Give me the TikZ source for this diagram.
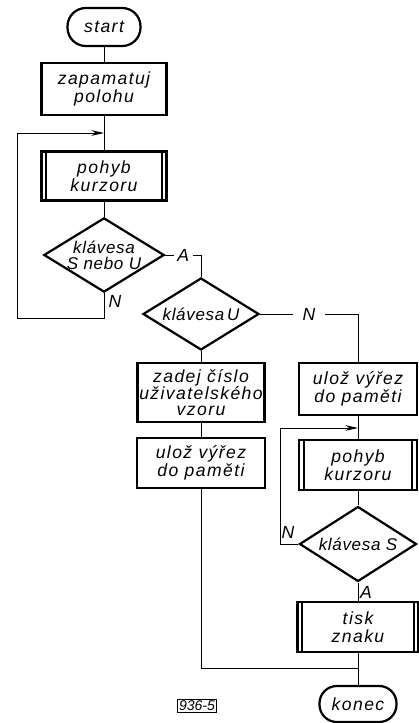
\documentclass[tikz,border=0pt]{standalone}
\usepackage{fontspec}
\setmainfont{Liberation Sans}[LetterSpace=8]
\usetikzlibrary{shapes.geometric,arrows.meta}
\begin{document}
\begin{tikzpicture}[x=0.03cm,y=-0.03cm,
  every node/.style={font=\itshape\fontsize{15}{15.5}\selectfont},
  shp/.style={draw, line width=1.9pt, align=center, inner sep=1pt},
  proc/.style={shp, rectangle},
  term/.style={shp, rectangle, rounded corners=0.55cm},
  dia/.style={shp, diamond, inner sep=0pt, font=\itshape\fontsize{14.5}{13.5}\selectfont\addfontfeature{LetterSpace=4}},
  pp/.style={proc, path picture={
      \draw[line width=1.5pt] ([xshift=0.14cm]path picture bounding box.north west) -- ([xshift=0.14cm]path picture bounding box.south west);
      \draw[line width=1.5pt] ([xshift=-0.14cm]path picture bounding box.north east) -- ([xshift=-0.14cm]path picture bounding box.south east);}},
  conn/.style={line width=0.8pt},
  arr/.style={conn, -{Stealth[length=3.8mm,width=1.7mm]}},
  lbl/.style={fill=white, inner sep=3pt},
]
\useasboundingbox (0,0) rectangle (419,723);

% left main column
\node[term, minimum width=2.19cm, minimum height=1.14cm] (start) at (104,27) {start};
\node[proc, minimum width=3.75cm, minimum height=1.56cm] (zap) at (104,89) {zapamatuj\\polohu};
\node[pp, minimum width=3.75cm, minimum height=1.47cm] (poh1) at (104,176) {pohyb\\kurzoru};
\node[dia, minimum width=3.6cm, minimum height=2.22cm, aspect=1.62] (d1) at (104,255) {klávesa\\S nebo U};

% middle column
\node[dia, minimum width=3.48cm, minimum height=2.16cm, aspect=1.61] (d2) at (201,314) {klávesa\,U};
\node[proc, minimum width=3.81cm, minimum height=1.77cm, font=\itshape\fontsize{15}{13.5}\selectfont] (zad) at (201,392.5) {zadej číslo\\uživatelského\\vzoru};
\node[proc, minimum width=3.84cm, minimum height=1.5cm] (ul1) at (201,463) {ulož výřez\\do paměti};

% right column
\node[proc, minimum width=3.54cm, minimum height=1.56cm] (ul2) at (358,389) {ulož výřez\\do paměti};
\node[pp, minimum width=3.54cm, minimum height=1.5cm] (poh2) at (358,465) {pohyb\\kurzoru};
\node[dia, minimum width=3.51cm, minimum height=2.25cm, aspect=1.56] (d3) at (358,544) {klávesa S};
\node[pp, minimum width=3.63cm, minimum height=1.5cm] (tisk) at (358,627) {tisk\\znaku};
\node[term, minimum width=2.31cm, minimum height=1.08cm, rounded corners=0.52cm] (konec) at (358,704) {konec};

\node[draw, line width=0.8pt, inner sep=1pt, font=\itshape\fontsize{12}{12}\selectfont\addfontfeature{LetterSpace=0}] (fig) at (197,706) {936-5};

% connectors left
\draw[conn] (start) -- (zap);
\draw[conn] (zap) -- (poh1);
\draw[conn] (poh1) -- (d1);
\coordinate (j1) at (104,133);
\coordinate (n1) at (104,318);
\coordinate (l1a) at (17,318);
\coordinate (l1b) at (17,133);
\draw[conn] (d1.south) -- (n1) -- (l1a) -- (l1b);
\draw[arr] (l1b) -- (j1);
\node (nlab1) at (115,301) {N};

% A branch to d2
\coordinate (c1) at (d1.east -| d2.north);
\draw[conn] (d1.east) -- node[lbl] (alab1) {A} (c1) -- (d2.north);

% N branch to right column
\coordinate (c2) at (d2.east -| ul2.north);
\draw[conn] (d2.east) -- node[lbl, pos=0.5, inner xsep=8pt] (nlab2) {N} (c2) -- (ul2.north);

% middle column flow
\draw[conn] (d2) -- (zad);
\draw[conn] (zad) -- (ul1);
\coordinate (m1) at (201,668);
\coordinate (m2) at (358,668);
\draw[conn] (ul1.south) -- (m1) -- (m2);

% right column flow
\draw[conn] (ul2) -- (poh2);
\draw[conn] (poh2) -- (d3);
\coordinate (j2) at (358,428);
\coordinate (l2a) at (280,544);
\coordinate (l2b) at (280,428);
\draw[conn] (d3.west) -- (l2a) -- (l2b);
\draw[arr] (l2b) -- (j2);
\node (nlab3) at (288,532) {N};
\draw[conn] (d3) -- (tisk);
\node (alab2) at (366,592) {A};
\draw[conn] (tisk) -- (konec);
\end{tikzpicture}
\end{document}
